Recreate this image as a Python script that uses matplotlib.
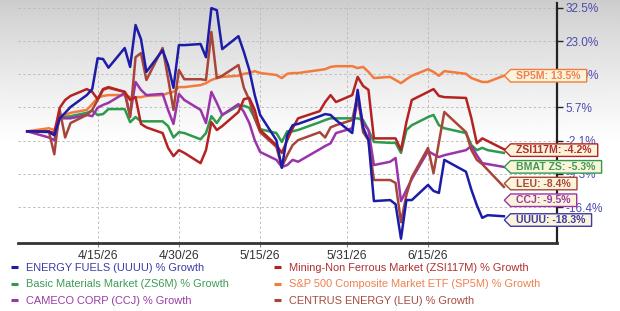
import numpy as np
import pandas as pd
import matplotlib
matplotlib.use("Agg")
import matplotlib.pyplot as plt
import matplotlib.dates as mdates
from matplotlib.lines import Line2D
from matplotlib.path import Path

plt.rcParams['font.family'] = ["Liberation Sans", 'DejaVu Sans']

# ---------------- data ----------------
dates = pd.bdate_range("2026-04-02", "2026-06-29")
dates = dates.drop(pd.to_datetime(["2026-04-03", "2026-05-25", "2026-06-19"]))

uuuu = [0.0, -0.1, -0.9, 3.0, 4.3, 5.7, 8.6, 10.1, 18.1, 17.9, 15.6, 20.9, 15.8, 27.4, 23.4, 14.5, 20.3, 16.3, 10.4, 21.7,
        21.7, 22.0, 18.4, 32.4, 31.8, 20.6, 24.2, 19.8, 15.0, 8.6, 3.8, -2.0, -8.0, -0.9, 1.4, 1.7, 3.5, 4.0, 3.8, 2.6,
        -0.4, 9.9, 0.9, -2.0, -14.7, -14.5, -15.3, -21.7, -14.5, -14.5, -11.5, -12.7, -13.1, -6.3, -8.8, -12.5, -15.5, -17.9, -17.4, -17.6]
sp5m = [0.0, 0.7, 0.3, 3.3, 3.8, 4.3, 5.0, 6.4, 7.9, 8.4, 8.6, 8.6, 8.1, 8.1, 8.1, 8.4, 8.6, 9.1, 9.4, 10.6,
        10.6, 11.1, 11.6, 12.4, 12.9, 13.2, 13.5, 14.0, 14.2, 14.7, 14.2, 13.7, 12.9, 14.0, 14.2, 14.2, 15.0, 15.2, 15.8, 16.0,
        16.0, 15.5, 15.8, 14.5, 12.9, 13.2, 12.4, 11.6, 12.6, 13.5, 15.2, 14.5, 13.5, 14.7, 14.0, 12.9, 12.4, 11.9, 11.9, 13.5]
bmat = [0.0, -0.2, -0.7, 3.3, 3.3, 3.5, 4.3, 4.8, 3.8, 4.0, 5.2, 5.2, 2.1, 3.3, 2.3, 2.3, 2.3, 1.2, -1.4, -0.2,
        -0.4, -1.8, -0.4, 3.5, 1.9, 3.8, 6.0, 6.0, 5.5, 3.0, 0.5, -0.4, -2.4, 0.0, 0.0, 0.3, 2.1, 2.6, 3.0, 3.0,
        3.0, 3.0, 2.6, 0.3, -2.4, -2.6, -2.6, -4.8, 0.3, 1.4, 3.3, 3.8, 1.4, 0.7, -0.4, -3.1, -4.2, -3.7, -4.2, -4.8]
ccj = [0.0, -1.4, -2.0, 3.0, 3.0, 3.0, 3.8, 3.5, 5.5, 6.2, 6.7, 9.1, 3.8, 11.9, 9.9, 8.6, 8.9, 5.0, 1.7, 8.9,
       7.4, 5.0, 1.9, 9.4, 6.7, 3.8, 6.4, 4.5, 1.9, -2.0, -4.6, -6.3, -7.8, -7.4, -6.3, -6.7, -4.0, -3.3, -2.7, -0.4,
       0.7, 7.4, 1.9, 0.3, -7.4, -6.7, -5.9, -14.7, -12.5, -10.3, -4.4, -5.1, -5.7, -5.3, -4.2, -3.3, -5.3, -7.0, -7.2, -7.8]
leu = [0.0, 0.0, -5.1, 5.0, -1.4, 1.9, 3.8, 5.0, 7.4, 9.9, 10.4, 9.4, 3.3, 18.4, 19.5, 12.4, 20.9, 12.9, 5.0, 15.0,
       12.6, 12.6, 12.4, 25.4, 12.9, 13.5, 16.3, 10.4, 7.4, 3.0, -0.2, -3.5, -7.8, -5.3, -3.1, -2.0, -0.2, -1.4, 0.9, 1.4,
       2.6, 8.6, -0.2, -2.0, -10.5, -10.5, -11.1, -18.7, -13.5, -9.9, -3.7, -9.1, -2.5, 4.5, -0.2, -4.2, -6.3, -7.2, -8.4, -11.9]
zsi = [0.0, 0.0, -0.4, 5.5, 7.4, 8.4, 10.1, 9.4, 7.6, 10.1, 10.6, 9.4, 7.4, 8.1, 1.7, 0.9, -0.4, -3.7, -5.5, -4.2,
       -4.8, -7.0, -4.2, 2.1, 0.3, 1.2, 4.5, 7.6, 7.9, 5.0, 0.3, -3.1, -4.8, -2.0, 0.7, 3.0, 4.7, 6.9, 8.6, 6.9,
       8.6, 13.2, 10.9, 9.9, -1.6, -1.6, -1.6, -4.2, 2.1, 7.4, 9.4, 10.1, 8.4, 8.1, 7.9, 3.0, -2.7, -1.6, -2.2, -4.0]

legend_names = ["ENERGY FUELS (UUUU) % Growth", "Basic Materials Market (ZS6M) % Growth",
                "CAMECO CORP (CCJ) % Growth", "Mining-Non Ferrous Market (ZSI117M) % Growth",
                "S&P 500 Composite Market ETF (SP5M) % Growth", "CENTRUS ENERGY (LEU) % Growth"]
end_labels = ["SP5M: 13.5%", "ZSI117M: -4.2%", "BMAT ZS: -5.3%", "LEU: -8.4%", "CCJ: -9.5%", "UUUU: -18.3%"]
end_values = [13.5, -4.2, -5.3, -8.4, -9.5, -18.3]

ytick_labels = ["32.5%", "23.0%", "14.0%", "5.7%", "-2.1%", "-9.3%", "-16.4%"]
xtick_dates = ["2026-04-15", "2026-04-30", "2026-05-15", "2026-05-31", "2026-06-15"]

# ---------------- styles ----------------
C_UUUU, C_BMAT, C_CCJ = "#1c1ca8", "#2f9a4c", "#9a34aa"
C_ZSI, C_SP5M, C_LEU = "#b42222", "#f27a3c", "#a8453a"
T_UUUU, T_BMAT, T_CCJ = "#3b3ba8", "#3f9a55", "#9a3aa6"
T_ZSI, T_SP5M, T_LEU = "#b03030", "#f0804f", "#a84a3c"

W, H = 620, 311
fig = plt.figure(figsize=(W / 100, H / 100), dpi=100)

# gradient background
bg = fig.add_axes([0, 0, 1, 1], zorder=-10)
bg.axis("off")
ys = np.linspace(0, 1, 311)  # 0 = top
vals = 0.80 + 0.20 * np.clip(ys / 0.46, 0, 1) ** 0.85
grad = np.tile(vals[:, None], (1, 2))
bg.imshow(grad, cmap="gray", vmin=0, vmax=1, aspect="auto", extent=[0, 1, 0, 1], interpolation="bilinear")
bg.set_xlim(0, 1)
bg.set_ylim(0, 1)

L, R, B, T = 18, 557, 243, 3
ax = fig.add_axes([L / W, (H - B) / H, (R - L) / W, (B - T) / H])
ax.set_facecolor("none")
ax.set_yscale("log")

series = [(sp5m, C_SP5M), (bmat, C_BMAT), (ccj, C_CCJ), (leu, C_LEU), (zsi, C_ZSI), (uuuu, C_UUUU)]
for vals_, col in series:
    ax.plot(dates, 1 + np.array(vals_) / 100.0, color=col, lw=1.8, solid_joinstyle="round", zorder=3)

t0 = pd.Timestamp("2026-04-15")
ax.set_xlim(t0 - pd.Timedelta(days=14.7), t0 + pd.Timedelta(days=84.8))
ax.set_ylim(0.7753, 1.3396)

r = 1.0786
yticks = [1.325 * r ** (-k) for k in range(len(ytick_labels))]
ax.yaxis.tick_right()
ax.set_yticks(yticks)
ax.set_yticklabels(ytick_labels)
ax.yaxis.set_minor_locator(matplotlib.ticker.NullLocator())
ax.tick_params(axis="y", which="major", direction="out", length=4, width=1, color="#222222",
               labelsize=8.5, labelcolor="#4b4bb0", pad=2)

xt = pd.to_datetime(xtick_dates)
ax.set_xticks(xt)
ax.set_xticklabels([f"{d.month}/{d.day}/{d.strftime('%y')}" for d in xt])
ax.tick_params(axis="x", direction="out", length=3, width=0.8, color="#888888",
               labelsize=8.7, labelcolor="#333333", pad=2.0)

ax.grid(True, axis="both", color="#bdbdbd", lw=0.7, ls=(0, (2.5, 2.5)))
for s in ["top", "left"]:
    ax.spines[s].set_visible(False)
ax.spines["bottom"].set_color("#333333")
ax.spines["bottom"].set_linewidth(2.0)
ax.spines["right"].set_color("#222222")
ax.spines["right"].set_linewidth(1.6)

# ---------------- end tags ----------------
def tag_box(x0, y0, width, height, mutation_size):
    px = 0.55 * mutation_size
    py = 0.12 * mutation_size
    x0 -= px; width += 2 * px
    y0 -= py; height += 2 * py
    tip = 0.5 * height
    verts = [(x0 - tip, y0 + height / 2), (x0, y0), (x0 + width, y0),
             (x0 + width, y0 + height), (x0, y0 + height), (x0 - tip, y0 + height / 2)]
    codes = [Path.MOVETO] + [Path.LINETO] * 4 + [Path.CLOSEPOLY]
    return Path(verts, codes)

tag_text = [T_SP5M, T_ZSI, T_BMAT, T_LEU, T_CCJ, T_UUUU]
tag_edge = [C_SP5M, C_ZSI, C_BMAT, C_LEU, C_CCJ, T_UUUU]
fig.canvas.draw()
end_num = mdates.date2num(dates[-1])
disp = [ax.transData.transform((end_num, 1 + v / 100.0))[1] for v in end_values]
gap = 16.7
adj = []
for d in disp:
    if adj and d > adj[-1] - gap:
        d = adj[-1] - gap
    adj.append(d)
inv = ax.transData.inverted()
for txt, d, tc, ec in zip(end_labels, adj, tag_text, tag_edge):
    ydata = inv.transform((0, d))[1]
    ax.annotate(txt, xy=(end_num, ydata), xycoords="data", xytext=(9.0, 0), textcoords="offset points",
                ha="left", va="center", fontsize=7.6, fontweight="bold", color=tc, zorder=20,
                annotation_clip=False,
                bbox=dict(boxstyle=tag_box, fc="#fcf4da", ec=ec, lw=1.0))

# ---------------- legends ----------------
def make_handles(cols):
    return [Line2D([], [], color=c, lw=2.2, solid_capstyle="butt") for c in cols]

leg_kw = dict(frameon=False, handlelength=0.6, handletextpad=0.75, labelspacing=0.58,
              borderpad=0, borderaxespad=0, prop={"size": 7.9})
top_frac = (H - 263) / H
lg1 = fig.legend(make_handles([C_UUUU, C_BMAT, C_CCJ]), legend_names[:3], loc="upper left",
                 bbox_to_anchor=(11 / W, top_frac), **leg_kw)
for t, c in zip(lg1.get_texts(), [T_UUUU, T_BMAT, T_CCJ]):
    t.set_color(c)
lg2 = fig.legend(make_handles([C_ZSI, C_SP5M, C_LEU]), legend_names[3:], loc="upper left",
                 bbox_to_anchor=(274 / W, top_frac), **leg_kw)
for t, c in zip(lg2.get_texts(), [T_ZSI, T_SP5M, T_LEU]):
    t.set_color(c)

fig.savefig("out.png", dpi=100)
